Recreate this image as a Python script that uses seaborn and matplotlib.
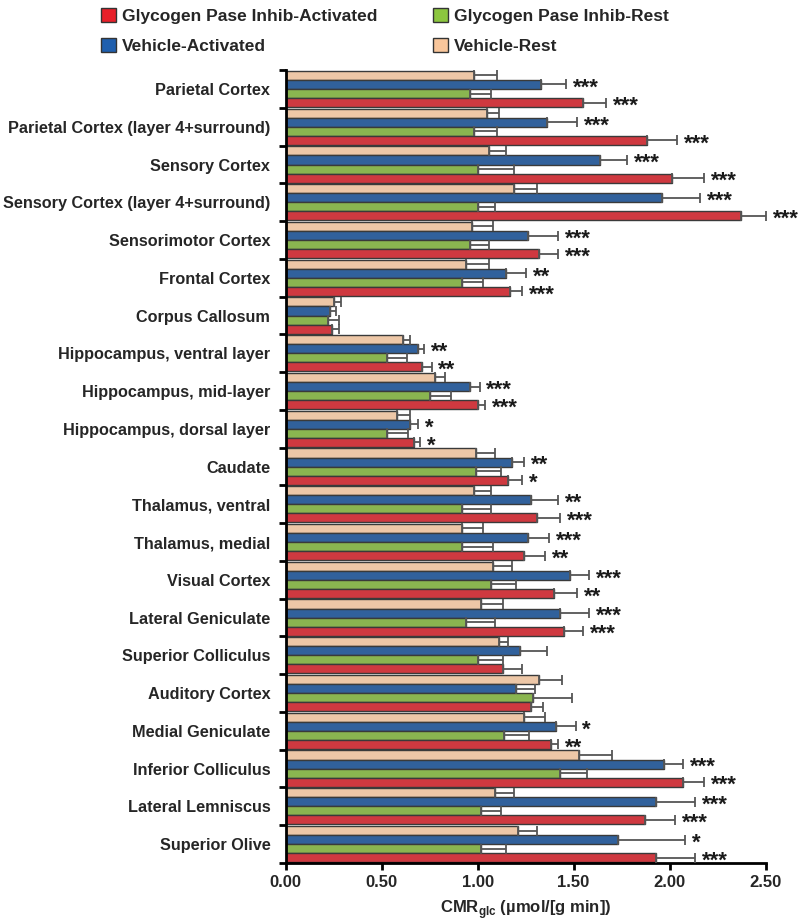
import numpy as np
import pandas as pd
import matplotlib
matplotlib.use("Agg")
from matplotlib import pyplot as plt
from matplotlib.patches import Patch
import seaborn as sns

sns.set_theme(style="white")
plt.rcParams['font.family'] = ['Liberation Sans', 'DejaVu Sans']

# Regions (top to bottom)
regions = [
    "Parietal Cortex", "Parietal Cortex (layer 4+surround)", "Sensory Cortex",
    "Sensory Cortex (layer 4+surround)", "Sensorimotor Cortex", "Frontal Cortex",
    "Corpus Callosum", "Hippocampus, ventral layer", "Hippocampus, mid-layer",
    "Hippocampus, dorsal layer", "Caudate", "Thalamus, ventral", "Thalamus, medial",
    "Visual Cortex", "Lateral Geniculate", "Superior Colliculus", "Auditory Cortex",
    "Medial Geniculate", "Inferior Colliculus", "Lateral Lemniscus", "Superior Olive",
]

# Means (CMRglc) per group
vehicle_rest = [0.98, 1.05, 1.06, 1.19, 0.97, 0.94, 0.25, 0.61, 0.78, 0.58, 0.99,
                0.98, 0.92, 1.08, 1.02, 1.11, 1.32, 1.24, 1.53, 1.09, 1.21]
vehicle_act = [1.33, 1.36, 1.64, 1.96, 1.26, 1.15, 0.23, 0.69, 0.96, 0.65, 1.18,
               1.28, 1.26, 1.48, 1.43, 1.22, 1.20, 1.41, 1.97, 1.93, 1.73]
gpi_rest = [0.96, 0.98, 1.00, 1.00, 0.96, 0.92, 0.22, 0.53, 0.75, 0.53, 0.99,
            0.92, 0.92, 1.07, 0.94, 1.00, 1.29, 1.14, 1.43, 1.02, 1.02]
gpi_act = [1.55, 1.88, 2.01, 2.37, 1.32, 1.17, 0.24, 0.71, 1.00, 0.67, 1.16,
           1.31, 1.24, 1.40, 1.45, 1.13, 1.28, 1.38, 2.07, 1.87, 1.93]

# Error (SD)
vehicle_rest_err = [0.12, 0.06, 0.09, 0.12, 0.11, 0.12, 0.04, 0.04, 0.05, 0.07, 0.10,
                    0.09, 0.11, 0.10, 0.11, 0.05, 0.12, 0.11, 0.17, 0.10, 0.10]
vehicle_act_err = [0.13, 0.16, 0.14, 0.20, 0.16, 0.10, 0.03, 0.03, 0.05, 0.04, 0.06,
                   0.14, 0.11, 0.10, 0.15, 0.14, 0.10, 0.10, 0.10, 0.20, 0.35]
gpi_rest_err = [0.11, 0.12, 0.19, 0.09, 0.10, 0.11, 0.06, 0.10, 0.11, 0.11, 0.13,
                0.15, 0.16, 0.13, 0.15, 0.13, 0.20, 0.13, 0.14, 0.10, 0.13]
gpi_act_err = [0.12, 0.16, 0.17, 0.13, 0.10, 0.06, 0.04, 0.05, 0.04, 0.03, 0.07,
               0.12, 0.11, 0.12, 0.10, 0.10, 0.06, 0.04, 0.11, 0.16, 0.20]

# Significance markers
vehicle_act_sig = ["***", "***", "***", "***", "***", "**", "", "**", "***", "*", "**",
                   "**", "***", "***", "***", "", "", "*", "***", "***", "*"]
gpi_act_sig = ["***", "***", "***", "***", "***", "***", "", "**", "***", "*", "*",
               "***", "**", "**", "***", "", "", "**", "***", "***", "***"]

groups = ["Vehicle-Rest", "Vehicle-Activated", "Glycogen Pase Inhib-Rest",
          "Glycogen Pase Inhib-Activated"]
colors = ["#f9c69b", "#1f5fae", "#8cc63f", "#e8202a"]

means = [vehicle_rest, vehicle_act, gpi_rest, gpi_act]
errs = [vehicle_rest_err, vehicle_act_err, gpi_rest_err, gpi_act_err]
sigs = [None, vehicle_act_sig, None, gpi_act_sig]

df = pd.DataFrame({
    "region": np.tile(regions, 4),
    "group": np.repeat(groups, len(regions)),
    "value": np.concatenate(means),
})

fig = plt.figure(figsize=(8, 9.23), dpi=100)
ax = fig.add_axes([0.357, 0.065, 0.6, 0.859])

sns.barplot(data=df, y="region", x="value", hue="group", order=regions,
            hue_order=groups, palette=colors, orient="h", width=0.96,
            edgecolor="#3a3a3a", linewidth=1.0, errorbar=None, legend=False, ax=ax)

# Error bars and significance stars from the bar geometry
bar_containers = list(ax.containers)
for g, container in enumerate(bar_containers):
    for i, bar in enumerate(container.patches):
        yc = bar.get_y() + bar.get_height() / 2
        xe = bar.get_width()
        e = errs[g][i]
        ax.errorbar(xe, yc, xerr=[[0], [e]], fmt="none", ecolor="#555555",
                    elinewidth=1.3, capsize=3.8, capthick=1.3, zorder=3)
        if sigs[g] is not None and sigs[g][i]:
            ax.annotate(sigs[g][i], xy=(xe + e, yc), xytext=(5, -2.5),
                        textcoords="offset points", ha="left", va="center",
                        fontsize=16, fontweight="bold", color="#1a1a1a")

ax.set_xlim(0, 2.5)
ax.set_ylim(len(regions) - 0.5, -0.5)
ax.set_xticks([0, 0.5, 1.0, 1.5, 2.0, 2.5])
ax.set_xticklabels(["0.00", "0.50", "1.00", "1.50", "2.00", "2.50"],
                   fontsize=12, fontweight="bold")
ax.set_yticks(range(len(regions)))
ax.set_yticklabels(regions, fontsize=11.7, fontweight="bold")
ax.set_yticks(np.arange(len(regions) + 1) - 0.5, minor=True)
ax.tick_params(axis="y", which="major", length=0, pad=11)
ax.tick_params(axis="y", which="minor", length=5, width=2, color="black", left=True)
ax.tick_params(axis="x", which="major", length=5, width=2, color="black", bottom=True)

ax.set_ylabel("")
ax.set_xlabel(r"CMR$_{\mathregular{glc}}$ (µmol/[g min])", fontsize=12,
              fontweight="bold", labelpad=6)

for side in ["top", "right"]:
    ax.spines[side].set_visible(False)
for side in ["left", "bottom"]:
    ax.spines[side].set_linewidth(2)
    ax.spines[side].set_color("black")

# Legend above the chart
handles = [Patch(facecolor=colors[3], edgecolor="#333333", label=groups[3]),
           Patch(facecolor=colors[1], edgecolor="#333333", label=groups[1]),
           Patch(facecolor=colors[2], edgecolor="#333333", label=groups[2]),
           Patch(facecolor=colors[0], edgecolor="#333333", label=groups[0])]
fig.legend(handles=handles, ncol=2, loc="upper left", bbox_to_anchor=(0.107, 1.008),
           frameon=False, prop={"weight": "bold", "size": 12.5},
           handlelength=0.85, handleheight=0.85, handletextpad=0.35,
           columnspacing=3.2, labelspacing=0.8)

fig.savefig("out.png", dpi=100)
